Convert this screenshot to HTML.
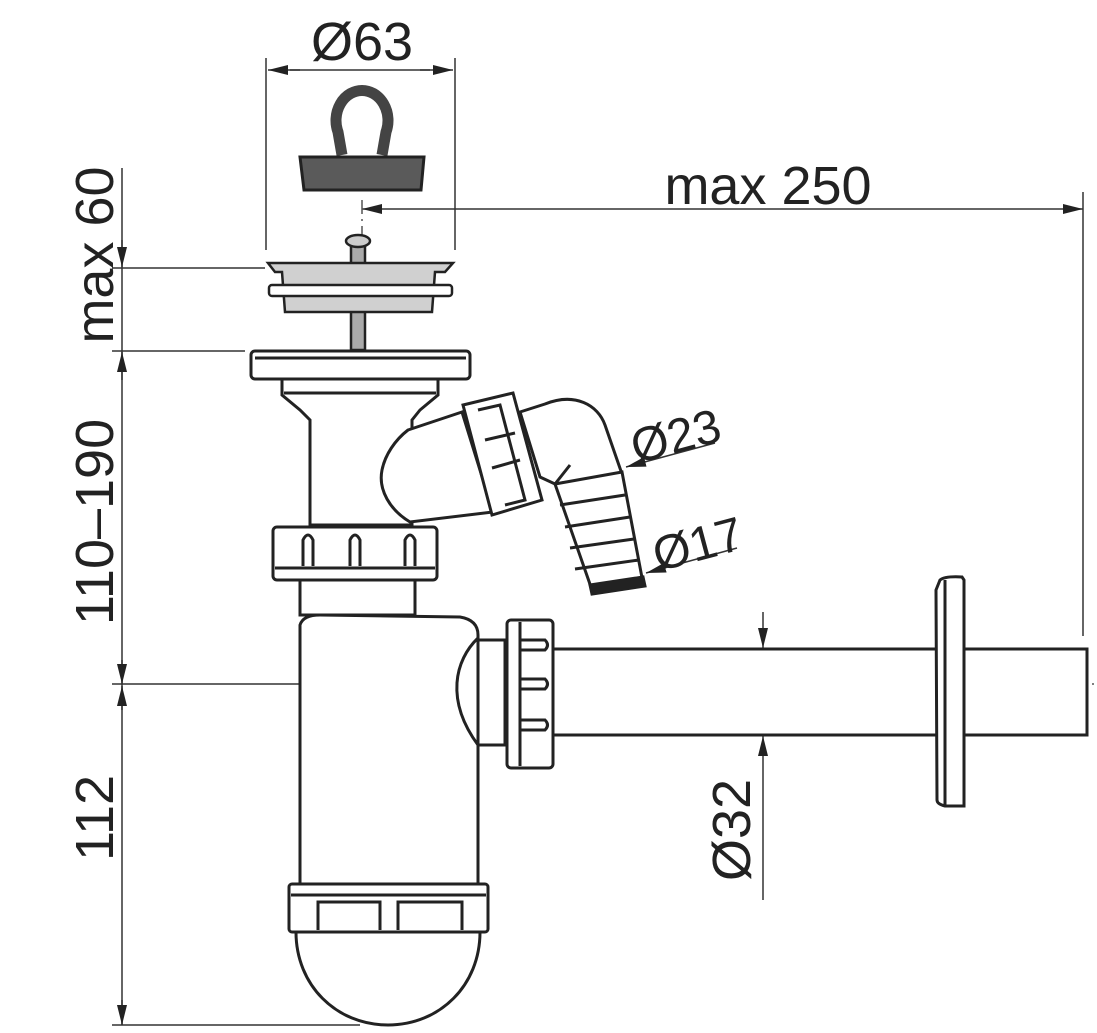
<!DOCTYPE html>
<html><head><meta charset="utf-8"><style>
html,body{margin:0;padding:0;background:#fff}
svg{display:block}
text{font-family:"Liberation Sans",sans-serif;fill:#222}
</style></head><body>
<svg width="1097" height="1033" viewBox="0 0 1097 1033" xmlns="http://www.w3.org/2000/svg">
<defs>
<marker id="a" viewBox="0 0 20 10" refX="20" refY="5" markerWidth="20" markerHeight="10" markerUnits="userSpaceOnUse" orient="auto"><path d="M0,0 L20,5 L0,10 Z" fill="#222"/></marker>
</defs>
<g stroke="#333" stroke-width="1.5" fill="none">
<line x1="266" y1="58" x2="266" y2="250"/><line x1="455" y1="58" x2="455" y2="250"/>
<line x1="300" y1="70" x2="268" y2="70" marker-end="url(#a)"/><line x1="420" y1="70" x2="453" y2="70" marker-end="url(#a)"/>
<line x1="290" y1="70" x2="430" y2="70"/>
<line x1="700" y1="209" x2="362" y2="209" marker-end="url(#a)"/><line x1="700" y1="209" x2="1083" y2="209" marker-end="url(#a)"/>
<line x1="1083" y1="192" x2="1083" y2="636"/>
<line x1="122" y1="168" x2="122" y2="1025"/>
<line x1="122" y1="240" x2="122" y2="267" marker-end="url(#a)"/>
<line x1="122" y1="380" x2="122" y2="352" marker-end="url(#a)"/>
<line x1="122" y1="660" x2="122" y2="684" marker-end="url(#a)"/>
<line x1="122" y1="710" x2="122" y2="686" marker-end="url(#a)"/>
<line x1="122" y1="1000" x2="122" y2="1025" marker-end="url(#a)"/>
<line x1="112" y1="268" x2="265" y2="268"/><line x1="112" y1="351" x2="245" y2="351"/>
<line x1="112" y1="684" x2="345" y2="684"/><line x1="112" y1="1025" x2="360" y2="1025"/>
<line x1="763" y1="612" x2="763" y2="648" marker-end="url(#a)"/>
<line x1="763" y1="900" x2="763" y2="736" marker-end="url(#a)"/>
<line x1="715" y1="443" x2="626" y2="467" marker-end="url(#a)"/>
<line x1="737" y1="548" x2="646" y2="573" marker-end="url(#a)"/>
</g>
<g stroke="#555" stroke-width="1.5" fill="none" stroke-dasharray="14,5,2,5">
<line x1="362" y1="200" x2="362" y2="690"/>
<line x1="388" y1="675" x2="388" y2="1025"/>
<line x1="345" y1="684" x2="1097" y2="684"/>
</g>
<g stroke="#222" stroke-width="3">
<path d="M342,155 L338,132 A26,30 0 1 1 386,132 L382,155" fill="none" stroke="#444" stroke-width="11"/>
<path d="M300,157 L424,157 L421,190 L304,190 Z" fill="#5a5a5a"/>
</g>
<g stroke="#222" stroke-width="2.5" fill="#d0d0d0">
<rect x="351" y="245" width="14" height="105" fill="#aaa"/>
<ellipse cx="358" cy="241" rx="12" ry="6" fill="#ccc"/>
<path d="M268,263 L453,263 L445,272 L435,272 L432,312 L285,312 L282,272 L275,272 Z"/>
<rect x="269" y="285" width="183" height="11" rx="3" fill="#fff"/>
</g>
<g stroke="#222" stroke-width="3" fill="#fff">
<path d="M282,378 L438,378 L438,395 L420,410 L412,420 L412,525 L310,525 L310,420 L300,410 L282,395 Z"/>
<line x1="284" y1="393" x2="436" y2="393"/>
<rect x="251" y="351" width="219" height="28" rx="4"/>
<line x1="255" y1="358" x2="466" y2="358"/>
<path d="M408,430 L462,412 L493,512 L410,522 C390,510 378,490 382,470 C385,455 395,440 408,430 Z"/>
<path d="M520,412 L545,404 C575,392 598,405 605,425 L622,474 L555,484 L540,477 Z"/>
<path d="M555,484 L622,472 L643,583 L592,590 Z"/>
<g fill="none"><line x1="560" y1="505" x2="625" y2="495"/><line x1="565" y1="527" x2="630" y2="517"/><line x1="570" y1="548" x2="634" y2="539"/><line x1="575" y1="569" x2="639" y2="560"/>
<path d="M555,484 L570,465"/></g>
<path d="M590,585 L643,577 L645,586 L592,594 Z" fill="#222"/>
<path d="M463,405 L513,393 L542,500 L492,515 Z"/>
<path d="M478,410 L500,405 L525,500 L505,505" fill="none"/>
<path d="M485,440 L515,433 M492,468 L520,460" fill="none"/>
<rect x="273" y="527" width="164" height="53" rx="4"/>
<line x1="275" y1="568" x2="435" y2="568"/>
<g fill="none"><path d="M303,566 L303,540 Q308,530 313,540 L313,566"/><path d="M350,566 L350,540 Q355,530 360,540 L360,566"/><path d="M405,566 L405,540 Q410,530 415,540 L415,566"/></g>
<rect x="300" y="580" width="115" height="35"/>
<path d="M300,625 Q303,615 320,615 L460,617 Q478,620 478,635 L478,885 L300,885 Z"/>
<path d="M478,640 L505,640 L505,745 L478,745 Z"/>
<path d="M478,638 C455,660 445,700 478,745" fill="none"/>
<rect x="289" y="884" width="199" height="48" rx="3"/>
<line x1="291" y1="895" x2="486" y2="895"/>
<g fill="none"><path d="M318,930 L318,902 L380,902 L380,930 M398,930 L398,902 L462,902 L462,930"/></g>
<path d="M296,932 L480,932 C480,985 440,1025 388,1025 C336,1025 296,985 296,932 Z"/>
<rect x="553" y="649" width="534" height="86"/>
<rect x="507" y="620" width="46" height="148" rx="4"/>
<line x1="520" y1="622" x2="520" y2="766"/>
<g fill="none"><path d="M520,640 L545,640 Q550,645 545,650 L520,650 M520,679 L545,679 Q550,684 545,689 L520,689 M520,720 L545,720 Q550,725 545,730 L520,730"/></g>
<path d="M940,580 Q945,576 962,577 L964,580 L964,806 L945,806 Q937,804 937,800 L936,590 Z"/>
<line x1="945" y1="580" x2="945" y2="805"/>
</g>
<text x="362" y="60" font-size="54" text-anchor="middle">Ø63</text>
<text x="768" y="204" font-size="54" text-anchor="middle">max 250</text>
<text transform="translate(113,255) rotate(-90)" font-size="54" text-anchor="middle">max 60</text>
<text transform="translate(113,522) rotate(-90)" font-size="54" text-anchor="middle">110–190</text>
<text transform="translate(113,818) rotate(-90)" font-size="54" text-anchor="middle">112</text>
<text transform="translate(750,830) rotate(-90)" font-size="54" text-anchor="middle">Ø32</text>
<text transform="translate(680,452) rotate(-15)" font-size="48" text-anchor="middle">Ø23</text>
<text transform="translate(702,560) rotate(-15)" font-size="48" text-anchor="middle">Ø17</text>
</svg>
</body></html>
